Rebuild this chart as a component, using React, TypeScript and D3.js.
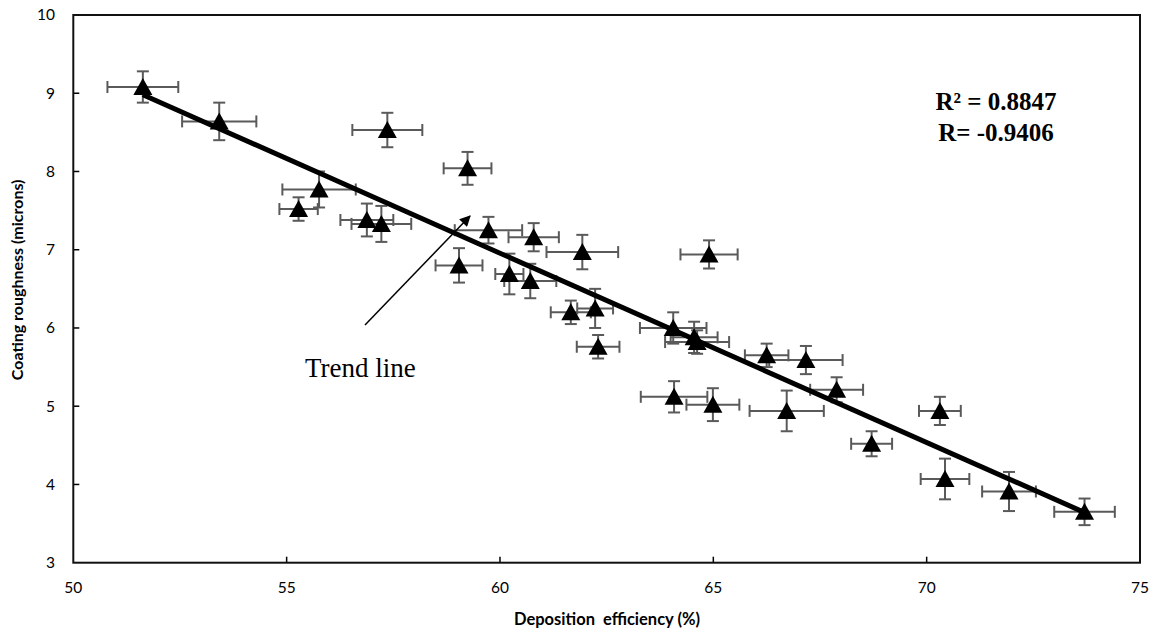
import React from "react";
import * as d3 from "d3";

const xs = [51.63, 53.42, 57.36, 55.76, 55.28, 59.24, 56.88, 57.22, 59.73, 60.79, 61.93, 64.90, 59.04, 60.22, 60.71, 61.66, 62.23, 62.30, 64.06, 64.55, 64.62, 66.25, 67.17, 67.89, 64.08, 64.99, 66.72, 70.31, 68.71, 70.43, 71.93, 73.70];
const ys = [9.08, 8.64, 8.53, 7.77, 7.52, 8.04, 7.38, 7.33, 7.25, 7.16, 6.97, 6.94, 6.80, 6.69, 6.60, 6.20, 6.25, 5.76, 6.00, 5.88, 5.82, 5.65, 5.59, 5.21, 5.12, 5.02, 4.94, 4.94, 4.52, 4.07, 3.91, 3.65];
const xErr = [0.83, 0.87, 0.82, 0.86, 0.45, 0.56, 0.62, 0.70, 0.79, 0.59, 0.84, 0.67, 0.55, 0.33, 0.61, 0.47, 0.42, 0.50, 0.78, 0.55, 0.75, 0.51, 0.86, 0.62, 0.78, 0.62, 0.87, 0.49, 0.48, 0.57, 0.63, 0.71];
const yErr = [0.20, 0.24, 0.22, 0.23, 0.15, 0.21, 0.21, 0.23, 0.17, 0.18, 0.22, 0.18, 0.22, 0.26, 0.22, 0.15, 0.25, 0.15, 0.20, 0.20, 0.15, 0.15, 0.18, 0.16, 0.20, 0.21, 0.26, 0.18, 0.16, 0.26, 0.25, 0.17];

const xTicks = [50, 55, 60, 65, 70, 75];
const yTicks = [3, 4, 5, 6, 7, 8, 9, 10];

const trendSlope = -0.2419;
const trendIntercept = 21.47;
const trendRange = [51.63, 73.7];

const stats = ["R² = 0.8847", "R= -0.9406"];

export default function App() {
  const W = 1158, H = 633;
  const left = 73.3, right = 1140, top = 15, bottom = 562.7;
  const x = d3.scaleLinear().domain([50, 75]).range([left, right]);
  const y = d3.scaleLinear().domain([3, 10]).range([bottom, top]);
  const cap = 6;
  const tri = "M0,-9L9.5,8L-9.5,8Z";
  const trendLine = d3.line<number>().x((d) => x(d)).y((d) => y(trendSlope * d + trendIntercept));
  const sans = "Lato, 'Open Sans', sans-serif";
  const serif = "'Liberation Serif', 'Times New Roman', serif";
  return (
    <svg width={W} height={H} style={{ position: "absolute", left: 0, top: 0, background: "#fff" }}>
      <rect x={0} y={0} width={W} height={H} fill="#fff" />
      {xTicks.slice(1, -1).map((t) => (
        <line key={"xt" + t} x1={x(t)} x2={x(t)} y1={bottom} y2={bottom - 6} stroke="#000" strokeWidth={1.5} />
      ))}
      {yTicks.slice(1, -1).map((t) => (
        <line key={"yt" + t} x1={left} x2={left + 6} y1={y(t)} y2={y(t)} stroke="#000" strokeWidth={1.5} />
      ))}
      {xTicks.map((t) => (
        <text key={"xl" + t} x={x(t)} y={593} textAnchor="middle" fontFamily={sans} fontSize={15.5} fill="#000">{t}</text>
      ))}
      {yTicks.map((t) => (
        <text key={"yl" + t} x={55} y={y(t)} dy="0.35em" textAnchor="end" fontFamily={sans} fontSize={15.5} fill="#000">{t}</text>
      ))}
      <g stroke="#5a5a5a" strokeWidth={2} fill="none">
        {xs.map((xv, i) => {
          const cx = x(xv), cy = y(ys[i]);
          const x0 = x(xv - xErr[i]), x1 = x(xv + xErr[i]);
          const y0 = y(ys[i] + yErr[i]), y1 = y(ys[i] - yErr[i]);
          return (
            <g key={"e" + i}>
              <line x1={x0} x2={x1} y1={cy} y2={cy} />
              <line x1={x0} x2={x0} y1={cy - cap} y2={cy + cap} />
              <line x1={x1} x2={x1} y1={cy - cap} y2={cy + cap} />
              <line x1={cx} x2={cx} y1={y0} y2={y1} />
              <line x1={cx - cap} x2={cx + cap} y1={y0} y2={y0} />
              <line x1={cx - cap} x2={cx + cap} y1={y1} y2={y1} />
            </g>
          );
        })}
      </g>
      {xs.map((xv, i) => (
        <path key={"m" + i} d={tri} transform={`translate(${x(xv)},${y(ys[i])})`} fill="#000" />
      ))}
      <path d={trendLine(trendRange) || ""} stroke="#000" strokeWidth={5} fill="none" />
      <rect x={left} y={top} width={right - left} height={bottom - top} fill="none" stroke="#111" strokeWidth={2} />
      <defs>
        <marker id="ah" viewBox="0 0 10 10" refX={9} refY={5} markerWidth={13} markerHeight={11} orient="auto" markerUnits="userSpaceOnUse">
          <path d="M0,0L10,5L0,10Z" fill="#000" />
        </marker>
      </defs>
      <line x1={365} y1={325} x2={470} y2={216} stroke="#000" strokeWidth={1.5} markerEnd="url(#ah)" />
      <text x={305} y={377} fontFamily={serif} fontSize={27} fill="#000">Trend line</text>
      {stats.map((s, i) => (
        <text key={"s" + i} x={996} y={110 + i * 31} textAnchor="middle" fontFamily={serif} fontWeight="bold" fontSize={25} fill="#000">{s}</text>
      ))}
      <text x={607} y={625} textAnchor="middle" fontFamily={sans} fontWeight="bold" fontSize={16.5} fill="#000" style={{ whiteSpace: "pre" }}>{"Deposition  efficiency (%)"}</text>
      <text transform={`translate(23,${(top + bottom) / 2 - 9}) rotate(-90)`} textAnchor="middle" fontFamily={sans} fontWeight="bold" fontSize={16} fill="#000">Coating roughness (microns)</text>
    </svg>
  );
}
